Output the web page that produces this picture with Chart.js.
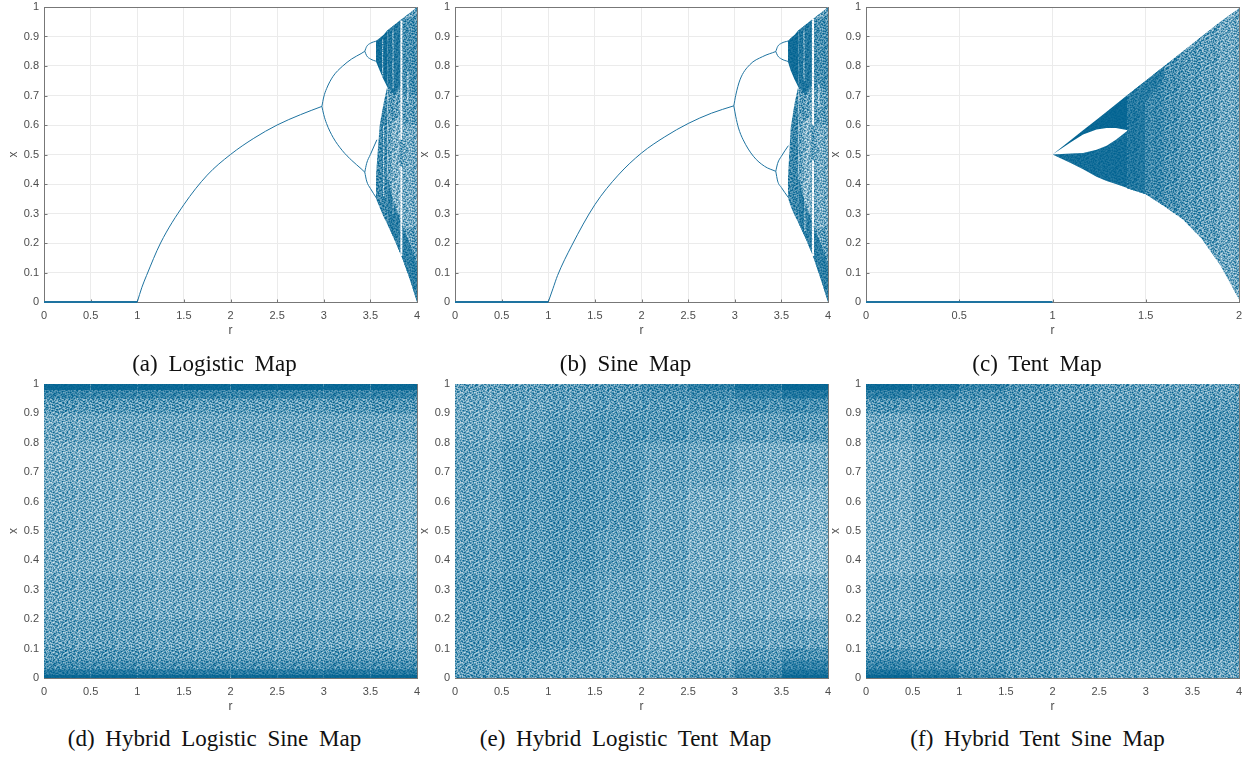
<!DOCTYPE html>
<html>
<head>
<meta charset="utf-8">
<title>Bifurcation diagrams</title>
<script src="https://cdn.jsdelivr.net/npm/chart.js@4"></script>
<style>
  html, body { margin: 0; padding: 0; background: #fff; }
  body { position: relative; width: 1253px; height: 758px; overflow: hidden; }
  canvas { position: absolute; }
  .caption {
    position: absolute; width: 420px; text-align: center; color: #111;
    font: 23px "Liberation Serif", serif; word-spacing: 5px; white-space: nowrap;
  }
</style>
</head>
<body>
<canvas id="a"></canvas><canvas id="b"></canvas><canvas id="c"></canvas>
<canvas id="d"></canvas><canvas id="e"></canvas><canvas id="f"></canvas>
<div class="caption" id="cap-a">(a) Logistic Map</div>
<div class="caption" id="cap-b">(b) Sine Map</div>
<div class="caption" id="cap-c">(c) Tent Map</div>
<div class="caption" id="cap-d">(d) Hybrid Logistic Sine Map</div>
<div class="caption" id="cap-e">(e) Hybrid Logistic Tent Map</div>
<div class="caption" id="cap-f">(f) Hybrid Tent Sine Map</div>
<script>
// ticks
const xTicks = [0, 0.5, 1, 1.5, 2, 2.5, 3, 3.5, 4];
const tentXTicks = [0, 0.5, 1, 1.5, 2];
const yTicks = [0, 0.1, 0.2, 0.3, 0.4, 0.5, 0.6, 0.7, 0.8, 0.9, 1];

// logistic map
const logisticZeroR = [0, 1];
const logisticZeroX = [0, 0];
const logisticFixedR = [1, 1.05, 1.1, 1.25, 1.5, 1.75, 2, 2.25, 2.5, 2.75, 2.98];
const logisticFixedX = [0, 0.05, 0.09, 0.2, 0.33, 0.43, 0.5, 0.555, 0.6, 0.635, 0.663];
const logisticUpperR = [2.98, 3, 3.03, 3.1, 3.2, 3.3, 3.4, 3.44];
const logisticUpperX = [0.663, 0.695, 0.723, 0.765, 0.799, 0.824, 0.842, 0.85];
const logisticLowerR = [2.98, 3, 3.03, 3.1, 3.2, 3.3, 3.4, 3.44];
const logisticLowerX = [0.663, 0.635, 0.605, 0.558, 0.513, 0.48, 0.452, 0.44];
const logisticLoopsR = [3.44, 3.46, 3.5, 3.57];
const logisticLoopA = [0.85, 0.866, 0.877, 0.885];
const logisticLoopB = [0.85, 0.835, 0.824, 0.815];
const logisticLoopC = [0.44, 0.47, 0.5, 0.55];
const logisticLoopD = [0.44, 0.41, 0.385, 0.35];
const logisticChaosR = [3.56, 3.6, 3.64, 3.68, 3.76, 3.84, 3.92, 4];
const logisticChaosTop = [0.885, 0.895, 0.905, 0.92, 0.94, 0.96, 0.98, 1];
const logisticChaosBottom = [0.35, 0.32, 0.29, 0.265, 0.21, 0.15, 0.08, 0];
const logisticUpperLobe = [0.815, 0.785, 0.755, 0.73];
const logisticLowerLobe = [0.43, 0.6, 0.67, 0.73];
// r from, r to, x from, x to, density
const logisticPatches = [
  [3.84, 4, 0.7, 0.96, 0.74],
  [3.72, 3.82, 0.3, 0.62, 0.56],
  [3.85, 4, 0.25, 0.6, 0.58]
];
const logisticStripes = [
  [3.82, 3.845, 0.55, 0.955, 0.03],
  [3.82, 3.845, 0.155, 0.46, 0.03],
  [3.735, 3.75, 0.72, 0.93, 0.4],
  [3.625, 3.64, 0.76, 0.89, 0.45],
  [3.895, 3.91, 0.68, 0.78, 0.3],
  [3.735, 3.75, 0.3, 0.58, 0.4],
  [3.635, 3.65, 0.36, 0.6, 0.45]
];

// sine map
const sineZeroR = [0, 1];
const sineZeroX = [0, 0];
const sineFixedR = [1, 1.05, 1.1, 1.25, 1.5, 1.75, 2, 2.25, 2.5, 2.75, 2.99];
const sineFixedX = [0, 0.045, 0.09, 0.19, 0.33, 0.43, 0.505, 0.56, 0.605, 0.64, 0.665];
const sineUpperR = [2.99, 3.01, 3.056, 3.16, 3.3, 3.44];
const sineUpperX = [0.665, 0.7, 0.753, 0.804, 0.832, 0.849];
const sineLowerR = [2.99, 3.01, 3.04, 3.09, 3.2, 3.32, 3.44];
const sineLowerX = [0.665, 0.63, 0.59, 0.55, 0.494, 0.46, 0.443];
const sineLoopsR = [3.44, 3.46, 3.5, 3.575];
const sineLoopA = [0.849, 0.866, 0.877, 0.885];
const sineLoopB = [0.849, 0.835, 0.824, 0.815];
const sineLoopC = [0.443, 0.47, 0.494, 0.53];
const sineLoopD = [0.443, 0.41, 0.388, 0.354];
const sineChaosR = [3.57, 3.6, 3.64, 3.68, 3.76, 3.84, 3.92, 4];
const sineChaosTop = [0.885, 0.895, 0.905, 0.92, 0.94, 0.96, 0.98, 1];
const sineChaosBottom = [0.354, 0.325, 0.295, 0.27, 0.215, 0.155, 0.08, 0];
const sineUpperLobe = [0.815, 0.785, 0.755, 0.73];
const sineLowerLobe = [0.42, 0.59, 0.67, 0.73];
const sinePatches = [
  [3.84, 4, 0.72, 0.96, 0.74],
  [3.72, 3.82, 0.3, 0.62, 0.54],
  [3.86, 4, 0.25, 0.6, 0.58]
];
const sineStripes = [
  [3.825, 3.85, 0.6, 0.96, 0.03],
  [3.825, 3.85, 0.155, 0.48, 0.03],
  [3.735, 3.75, 0.75, 0.93, 0.4],
  [3.895, 3.91, 0.66, 0.74, 0.3],
  [3.745, 3.76, 0.24, 0.44, 0.4]
];

// tent map
const tentZeroR = [0, 1];
const tentZeroX = [0, 0];
const tentR = [1, 1.1, 1.2, 1.3, 1.4, 1.5, 1.6, 1.7, 1.8, 1.9, 2];
const tentTop = [0.5, 0.55, 0.6, 0.65, 0.7, 0.75, 0.8, 0.85, 0.9, 0.95, 0.995];
const tentBottom = [0.5, 0.47, 0.44, 0.407, 0.386, 0.365, 0.325, 0.28, 0.215, 0.125, 0.01];
const tentDensity = [0.98, 0.98, 0.97, 0.95, 0.88, 0.78, 0.72, 0.68, 0.64, 0.6];
const tentEyeR = [1, 1.1, 1.164, 1.236, 1.29, 1.34, 1.405];
const tentEyeTop = [0.5, 0.542, 0.568, 0.585, 0.59, 0.59, 0.582];
const tentEyeBottom = [0.5, 0.503, 0.505, 0.516, 0.53, 0.55, 0.582];
const tentEyeOuterTop = [0.5, 0.55, 0.582, 0.618, 0.645, 0.67, 0.703];
const tentEyeOuterBottom = [0.5, 0.47, 0.45, 0.425, 0.41, 0.4, 0.386];
const tentRimR = [1.4, 1.5, 1.6];
const tentRimLow = [0.62, 0.68, 0.76];
const tentRimHigh = [0.7, 0.75, 0.8];

// hybrid maps: how dense the dots are per cell, top row first
const cellR = [0, 0.5, 1, 1.5, 2, 2.5, 3, 3.5, 4];
const cellX = [1, 0.98, 0.95, 0.9, 0.8, 0.65, 0.5, 0.35, 0.2, 0.1, 0.06, 0.03, 0.01, 0];
const hybridLogisticSine = [
  [0.96, 0.96, 0.96, 0.96, 0.96, 0.96, 0.96, 0.96],
  [0.8, 0.8, 0.8, 0.8, 0.8, 0.8, 0.8, 0.82],
  [0.68, 0.68, 0.68, 0.66, 0.66, 0.66, 0.68, 0.7],
  [0.6, 0.6, 0.6, 0.6, 0.6, 0.6, 0.6, 0.6],
  [0.57, 0.56, 0.56, 0.56, 0.56, 0.56, 0.56, 0.56],
  [0.58, 0.56, 0.55, 0.55, 0.55, 0.55, 0.54, 0.54],
  [0.58, 0.57, 0.56, 0.56, 0.56, 0.55, 0.55, 0.54],
  [0.6, 0.6, 0.58, 0.58, 0.58, 0.58, 0.58, 0.58],
  [0.63, 0.63, 0.62, 0.62, 0.62, 0.62, 0.62, 0.62],
  [0.68, 0.68, 0.66, 0.66, 0.66, 0.66, 0.68, 0.68],
  [0.75, 0.75, 0.73, 0.73, 0.73, 0.73, 0.75, 0.75],
  [0.87, 0.87, 0.85, 0.85, 0.85, 0.85, 0.87, 0.87],
  [0.97, 0.97, 0.96, 0.96, 0.96, 0.96, 0.97, 0.97]
];
const hybridLogisticTent = [
  [0.65, 0.66, 0.68, 0.7, 0.76, 0.84, 0.92, 0.97],
  [0.62, 0.64, 0.66, 0.68, 0.72, 0.76, 0.82, 0.88],
  [0.6, 0.62, 0.64, 0.66, 0.68, 0.7, 0.72, 0.74],
  [0.6, 0.63, 0.66, 0.68, 0.68, 0.66, 0.64, 0.66],
  [0.62, 0.66, 0.68, 0.66, 0.62, 0.6, 0.56, 0.56],
  [0.62, 0.66, 0.68, 0.66, 0.6, 0.56, 0.54, 0.52],
  [0.64, 0.66, 0.68, 0.64, 0.6, 0.56, 0.54, 0.5],
  [0.66, 0.68, 0.66, 0.62, 0.6, 0.58, 0.56, 0.55],
  [0.66, 0.68, 0.66, 0.62, 0.58, 0.58, 0.6, 0.62],
  [0.66, 0.66, 0.64, 0.62, 0.6, 0.62, 0.66, 0.72],
  [0.66, 0.66, 0.64, 0.62, 0.62, 0.64, 0.72, 0.82],
  [0.66, 0.66, 0.64, 0.62, 0.64, 0.68, 0.78, 0.9],
  [0.7, 0.7, 0.68, 0.66, 0.66, 0.72, 0.84, 0.96]
];
const hybridTentSine = [
  [0.95, 0.9, 0.82, 0.74, 0.7, 0.66, 0.64, 0.64],
  [0.84, 0.8, 0.74, 0.7, 0.66, 0.64, 0.64, 0.64],
  [0.7, 0.7, 0.68, 0.68, 0.66, 0.64, 0.64, 0.66],
  [0.6, 0.64, 0.66, 0.68, 0.68, 0.66, 0.66, 0.68],
  [0.56, 0.6, 0.64, 0.68, 0.68, 0.66, 0.64, 0.68],
  [0.56, 0.6, 0.62, 0.66, 0.68, 0.68, 0.66, 0.68],
  [0.56, 0.58, 0.62, 0.66, 0.68, 0.68, 0.68, 0.68],
  [0.6, 0.62, 0.64, 0.66, 0.66, 0.68, 0.68, 0.68],
  [0.64, 0.64, 0.66, 0.66, 0.64, 0.64, 0.66, 0.66],
  [0.72, 0.7, 0.68, 0.66, 0.64, 0.64, 0.64, 0.64],
  [0.8, 0.76, 0.7, 0.66, 0.64, 0.62, 0.62, 0.62],
  [0.9, 0.84, 0.74, 0.68, 0.64, 0.62, 0.62, 0.62],
  [0.97, 0.92, 0.8, 0.7, 0.66, 0.64, 0.64, 0.64]
];

// stipple used as the fill style, so dense areas look dotted and not flat
const stippleTile = [
  '3905718264419027536881240975316028497153',
  '7162094853372610498550937126488305126749',
  '2847536019905182743669021458372941760358',
  '6013928475148367920175486039214507893126',
  '9574102683620549137298015643827136054982',
  '1386759240793128465034972186503764291805',
  '4209836517456092371845160927348012659473',
  '8751029346108745693202658371491837402561',
  '0693481752923016847568214930675240918376',
  '5328106974679354102987402561386719053248',
  '7940362581240863795136758024913568720194',
  '2176593048592107438601349278056423187965',
  '8035217469386924501742805136694701352680',
  '4692870135074581362995163740228916034757',
  '1507943628641203978340679218537053489162',
  '9283415067297856014128035964160324758691',
  '3764082951530419726687914305284197605238',
  '6015739284862370154925368017439652041873',
  '2498106573147985320761402689531078296405',
  '7350924618093642871518257943606824519730',
  '5826371490425017693284096135777391048256',
  '0149582736968350214673841205962148637509',
  '8637014925271946508392570468313705982614',
  '3952768041506283179410627835949162073485',
  '1470239865738095426157394082615280749361',
  '6285910374824613750968205173437059186242',
  '9013475682359027841234869501762643890157',
  '4768052319106475293875012396484912357068',
  '2539681047793268150446197825030186724593',
  '7104326958485901367029364718592753640819'
];

const BLUE = [0, 98, 145];
const stippleCache = {};

function mix(t) {
  return BLUE.map(v => Math.round(255 + (v - 255) * t));
}

// density 0..1 -> soft stipple pattern with about that much blue in it
function tone(d) {
  const key = d.toFixed(2);
  if (stippleCache[key]) return stippleCache[key];
  const h = stippleTile.length, w = stippleTile[0].length;
  const tile = document.createElement('canvas');
  tile.width = w;
  tile.height = h;
  const g = tile.getContext('2d');
  const img = g.createImageData(w, h);
  const spread = Math.min(1.1, (1 - d) * 3.5);
  const mid = d - 0.04 * (1 - d) * 2;
  for (let y = 0; y < h; y++) {
    for (let x = 0; x < w; x++) {
      const own = Number(stippleTile[y][x]);
      const right = Number(stippleTile[y][(x + 1) % w]);
      const down = Number(stippleTile[(y + 1) % h][x]);
      const rank = (own * 0.6 + right * 0.2 + down * 0.2 + 0.5) / 10;
      const t = Math.min(1, Math.max(0, mid + (0.5 - rank) * spread));
      const c = mix(t), i = (y * w + x) * 4;
      img.data[i] = c[0]; img.data[i + 1] = c[1]; img.data[i + 2] = c[2]; img.data[i + 3] = 255;
    }
  }
  g.putImageData(img, 0, 0);
  stippleCache[key] = g.createPattern(tile, 'repeat');
  return stippleCache[key];
}

function pts(xs, ys) {
  return xs.map((x, i) => ({ x: x, y: ys[i] }));
}

function curve(xs, ys, width) {
  return {
    data: pts(xs, ys), showLine: true, pointRadius: 0, fill: false, clip: false,
    borderColor: 'rgb(30,115,160)', borderWidth: width || 1, cubicInterpolationMode: 'monotone'
  };
}

// two invisible edges with a fill between them
function band(xs, lo, hi, density) {
  const edge = { showLine: true, pointRadius: 0, borderWidth: 0, borderColor: 'transparent' };
  return [
    Object.assign({}, edge, { data: pts(xs, lo), fill: false }),
    Object.assign({}, edge, { data: pts(xs, hi), fill: '+1', backgroundColor: tone(density) })
  ];
}

function block(b) {
  return band([b[0], b[1]], [b[2], b[2]], [b[3], b[3]], b[4]);
}

function cells(matrix) {
  let out = band([0, 4], [0, 0], [1, 1], 0.62);
  matrix.forEach((row, i) => {
    row.forEach((d, j) => {
      out = out.concat(block([cellR[j], cellR[j + 1], cellX[i + 1], cellX[i], d]));
    });
  });
  return out;
}

function bifurcation(m) {
  const n = 4; // lobes stop at the fourth r
  let out = [];
  out = out.concat(band(m.r.slice(0, n), m.upperLobe, m.top.slice(0, n), 0.94));
  out = out.concat(band(m.r.slice(0, n), m.bottom.slice(0, n), m.lowerLobe, 0.78));
  out = out.concat(band(m.r.slice(n - 1), m.bottom.slice(n - 1), m.top.slice(n - 1), 0.66));
  // dark wedge under the top edge and along the bottom edge
  out = out.concat(band(m.r.slice(n - 1, 6), [0.73, 0.7, 0.74], m.top.slice(n - 1, 6), 0.88));
  m.patches.forEach(p => { out = out.concat(block(p)); });
  out = out.concat(band(m.r.slice(n - 1), m.bottom.slice(n - 1), [0.42, 0.33, 0.26, 0.2, 0.13], 0.84));
  m.stripes.forEach(s => { out = out.concat(block(s)); });
  m.lines.forEach(l => { out.push(curve(l[0], l[1], l[2])); });
  return out;
}

// box and inward tick marks, like the matlab axes
const frame = {
  id: 'frame',
  beforeDatasetsDraw(chart) {
    const a = chart.chartArea, g = chart.ctx;
    const left = Math.round(a.left) + 0.5, top = Math.round(a.top) + 0.5;
    const right = Math.round(a.right) + 0.5, bottom = Math.round(a.bottom) + 0.5;
    g.save();
    g.strokeStyle = '#777';
    g.lineWidth = 1;
    g.strokeRect(left, top, right - left, bottom - top);
    g.beginPath();
    chart.scales.x.ticks.forEach(t => {
      const px = Math.round(chart.scales.x.getPixelForValue(t.value)) + 0.5;
      g.moveTo(px, bottom); g.lineTo(px, bottom - 3);
    });
    chart.scales.y.ticks.forEach(t => {
      const py = Math.round(chart.scales.y.getPixelForValue(t.value)) + 0.5;
      g.moveTo(left, py); g.lineTo(left + 3, py);
    });
    g.stroke();
    g.restore();
  }
};

function axis(title, ticks, max, horizontal) {
  return {
    type: 'linear', min: 0, max: max,
    afterBuildTicks: s => { s.ticks = ticks.map(v => ({ value: v })); },
    afterFit: s => { if (horizontal) s.height = 42; else s.width = 44; },
    border: { display: false },
    grid: { color: '#ebebeb', lineWidth: 1, drawTicks: false },
    ticks: {
      color: '#4d4d4d', padding: horizontal ? 7 : 5, maxRotation: 0, autoSkip: false,
      font: { family: 'Liberation Sans', size: 11 },
      callback: v => String(v)
    },
    title: {
      display: true, text: title, color: '#4d4d4d',
      font: { family: 'Liberation Sans', size: 12 },
      padding: horizontal ? { top: 0, bottom: 6 } : { top: 6, bottom: 0 }
    }
  };
}

function panel(id, left, top, height, datasets, ticks, max) {
  const canvas = document.getElementById(id);
  canvas.width = 429;
  canvas.height = height + 20 + 42;
  canvas.style.left = (left - 44) + 'px';
  canvas.style.top = (top - 20) + 'px';
  new Chart(canvas, {
    type: 'scatter',
    data: { datasets: datasets.slice().reverse() },
    options: {
      responsive: false, animation: false, events: [],
      layout: { padding: { top: 20, right: 12, left: 0, bottom: 0 } },
      plugins: { legend: { display: false }, tooltip: { enabled: false } },
      scales: { x: axis('r', ticks, max, true), y: axis('x', yTicks, 1, false) }
    },
    plugins: [frame]
  });
}

function caption(id, left, top) {
  const el = document.getElementById(id);
  el.style.left = left + 'px';
  el.style.top = top + 'px';
}

const logisticLayers = bifurcation({
  r: logisticChaosR, top: logisticChaosTop, bottom: logisticChaosBottom,
  upperLobe: logisticUpperLobe, lowerLobe: logisticLowerLobe,
  patches: logisticPatches, stripes: logisticStripes,
  lines: [
    [logisticZeroR, logisticZeroX, 2], [logisticFixedR, logisticFixedX], [logisticUpperR, logisticUpperX],
    [logisticLowerR, logisticLowerX], [logisticLoopsR, logisticLoopA], [logisticLoopsR, logisticLoopB],
    [logisticLoopsR, logisticLoopC], [logisticLoopsR, logisticLoopD]
  ]
});
const sineLayers = bifurcation({
  r: sineChaosR, top: sineChaosTop, bottom: sineChaosBottom,
  upperLobe: sineUpperLobe, lowerLobe: sineLowerLobe,
  patches: sinePatches, stripes: sineStripes,
  lines: [
    [sineZeroR, sineZeroX, 2], [sineFixedR, sineFixedX], [sineUpperR, sineUpperX],
    [sineLowerR, sineLowerX], [sineLoopsR, sineLoopA], [sineLoopsR, sineLoopB],
    [sineLoopsR, sineLoopC], [sineLoopsR, sineLoopD]
  ]
});

// tent: the two lobes around the eye, then columns getting paler to the right
let tentLayers = [];
tentLayers = tentLayers.concat(band(tentEyeR, tentEyeTop, tentEyeOuterTop, 0.97));
tentLayers = tentLayers.concat(band(tentEyeR, tentEyeOuterBottom, tentEyeBottom, 0.93));
tentLayers = tentLayers.concat(band(tentR.slice(4), tentBottom.slice(4), tentTop.slice(4), 0.62));
tentDensity.forEach((d, i) => {
  if (i < 4) return;
  tentLayers = tentLayers.concat(band(tentR.slice(i, i + 2), tentBottom.slice(i, i + 2), tentTop.slice(i, i + 2), d));
});
tentLayers = tentLayers.concat(band(tentRimR, tentRimLow, tentRimHigh, 0.86));
tentLayers.push(curve(tentZeroR, tentZeroX, 2));

panel('a', 44, 7, 295, logisticLayers, xTicks, 4);
panel('b', 455, 7, 295, sineLayers, xTicks, 4);
panel('c', 866, 7, 295, tentLayers, tentXTicks, 2);
panel('d', 44, 384, 294, cells(hybridLogisticSine), xTicks, 4);
panel('e', 455, 384, 294, cells(hybridLogisticTent), xTicks, 4);
panel('f', 866, 384, 294, cells(hybridTentSine), xTicks, 4);

caption('cap-a', 4.5, 351);
caption('cap-b', 415.5, 351);
caption('cap-c', 827, 351);
caption('cap-d', 4.5, 726);
caption('cap-e', 415.5, 726);
caption('cap-f', 827.5, 726);
</script>
</body>
</html>
